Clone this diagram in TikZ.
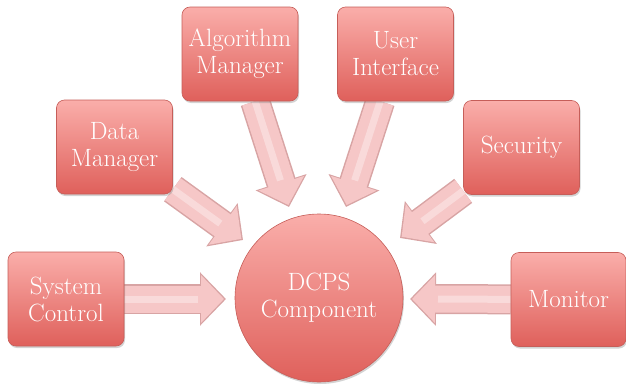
\documentclass[tikz,border=0pt]{standalone}
\usetikzlibrary{arrows.meta,shadows,backgrounds}
\definecolor{boxtop}{HTML}{FAAEAA}
\definecolor{boxbot}{HTML}{DF605B}
\definecolor{boxedge}{HTML}{C65E59}
\definecolor{arrowfill}{HTML}{F6C7C7}
\definecolor{arrowedge}{HTML}{D8A4A4}
\tikzset{
  box/.style={rectangle, rounded corners=8pt, minimum width=116pt, minimum height=94pt,
    top color=boxtop, bottom color=boxbot, draw=boxedge, line width=0.6pt,
    text=white, align=center, font=\fontsize{25}{27}\selectfont,
    drop shadow={shadow xshift=1pt, shadow yshift=-2pt, opacity=0.35}},
  hub/.style={circle, minimum size=168pt, inner sep=0pt,
    top color=boxtop, bottom color=boxbot, draw=boxedge, line width=0.6pt,
    text=white, align=center, font=\fontsize{25}{27}\selectfont,
    drop shadow={shadow xshift=1pt, shadow yshift=-2pt, opacity=0.35}},
  arrowout/.style={draw=arrowedge, line width=30pt, -{Triangle[width=52pt,length=26pt]}},
  arrowin/.style={draw=arrowfill, line width=27pt, shorten >=2pt, -{Triangle[width=46.5pt,length=23pt]}},
  arrowshine/.style={draw=white, opacity=0.35, line width=7pt, shorten >=28pt},
}
\begin{document}
\begin{tikzpicture}[x=1pt,y=-1pt]
\useasboundingbox (0,0) rectangle (626,388);
\node[hub] (hub) at (319,298) {DCPS\\Component};
\node[box] (alg) at (240,54) {Algorithm\\Manager};
\node[box] (ui) at (395.5,54) {User\\Interface};
\node[box] (dm) at (114.5,147) {Data\\Manager};
\node[box] (sec) at (521.5,147.5) {Security};
\node[box] (sys) at (66,299) {System\\Control};
\node[box, minimum width=115pt] (mon) at (568.5,299.5) {Monitor};
\coordinate (talg) at (289,207);
\coordinate (tui) at (346,207);
\coordinate (tdm) at (243,240);
\coordinate (tsec) at (400,238);
\coordinate (tsys) at (226,299);
\coordinate (tmon) at (410,299);
\begin{pgfonlayer}{background}
\foreach \s/\t in {alg/talg, ui/tui, dm/tdm, sec/tsec, sys/tsys, mon/tmon}{
  \draw[arrowout] (\s) -- (\t);
  \draw[arrowin] (\s) -- (\t);
  \draw[arrowshine] (\s) -- (\t);
}
\end{pgfonlayer}
\end{tikzpicture}
\end{document}
